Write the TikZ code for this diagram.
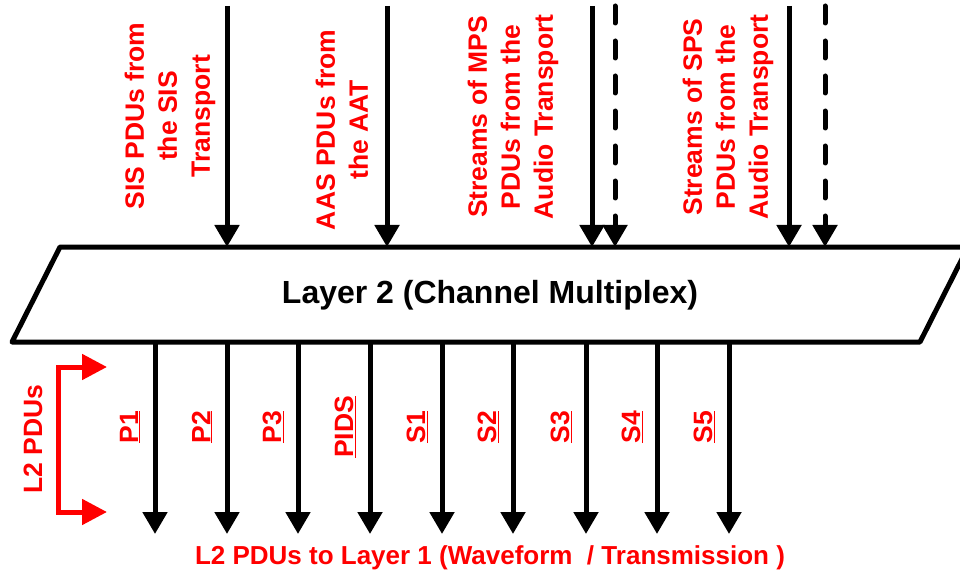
\documentclass[tikz,border=0pt]{standalone}
\usepackage{fontspec}
\setmainfont{Liberation Sans}
\usetikzlibrary{arrows.meta}

\begin{document}
\begin{tikzpicture}[x=1pt, y=-1pt, font=\bfseries]
    \tikzstyle{blackArrow} = [draw=black, line width=5pt, -{Triangle[width=24pt,length=22pt]}]
    \tikzstyle{dashArrow} = [blackArrow, line cap=round, dash pattern=on 17pt off 18pt]
    \tikzstyle{redArrow} = [draw=red, line width=5pt, {Triangle[width=25pt,length=25pt]}-{Triangle[width=25pt,length=25pt]}]
    \tikzstyle{redLabel} = [text=red, font=\fontsize{26.5}{33}\selectfont\bfseries, align=center, inner sep=0pt]
    \tikzstyle{layerBox} = [draw=black, line width=5pt, line join=round]
    \useasboundingbox (0,0) rectangle (960,577);
    \clip (0,0) rectangle (960,577);
    % layer 2 box
    \coordinate (boxA) at (60,247);
    \coordinate (boxB) at (968,247);
    \coordinate (boxC) at (920,342);
    \coordinate (boxD) at (12,342);
    \path[layerBox] (boxA) -- (boxB) -- (boxC) -- (boxD) -- cycle;
    \node[font=\fontsize{32}{36}\selectfont\bfseries] (layer) at (490,295) {Layer 2 (Channel Multiplex)};
    % inputs from the transports
    \node[redLabel, rotate=90] (sisText) at (170,116) {SIS PDUs from\\the SIS\\Transport};
    \node[redLabel, rotate=90] (aasText) at (342,130) {AAS PDUs from\\the AAT};
    \node[redLabel, rotate=90] (mpsText) at (513,117) {Streams of MPS\\PDUs from the\\Audio Transport};
    \node[redLabel, rotate=90] (spsText) at (728,117) {Streams of SPS\\PDUs from the\\Audio Transport};
    \foreach \x/\name in {227/sis, 387/aas, 592/mps, 789/sps}{
        \coordinate (\name In) at (\x,6);
        \coordinate (\name Out) at (\x,247);
        \draw[blackArrow] (\name In) -- (\name Out);
    }
    \foreach \x/\name in {615/mpsMore, 825/spsMore}{
        \coordinate (\name In) at (\x,6);
        \coordinate (\name Out) at (\x,247);
        \draw[dashArrow] (\name In) -- (\name Out);
    }
    % outputs to layer 1
    \foreach \x/\name in {155/P1, 227/P2, 298/P3, 370/PIDS, 442/S1,
                        513/S2, 586/S3, 657/S4, 729/S5}{
        \coordinate (\name Top) at (\x,342);
        \coordinate (\name Bot) at (\x,534);
        \draw[blackArrow] (\name Top) -- (\name Bot);
        \node[redLabel, rotate=90] (\name Text) at (\x-25,427) {\underline{\name}};
    }
    % l2 pdus bracket
    \coordinate (l2Top) at (107,367);
    \coordinate (l2TopC) at (58,367);
    \coordinate (l2BotC) at (58,512);
    \coordinate (l2Bot) at (107,512);
    \draw[redArrow] (l2Top) -- (l2TopC) -- (l2BotC) -- (l2Bot);
    \node[redLabel, rotate=90] (l2Text) at (33,439) {L2 PDUs};
    \node[redLabel, font=\fontsize{26}{30}\selectfont\bfseries] (l1Text) at (490,558) {L2 PDUs to Layer 1 (Waveform~ / Transmission )};
\end{tikzpicture}
\end{document}
